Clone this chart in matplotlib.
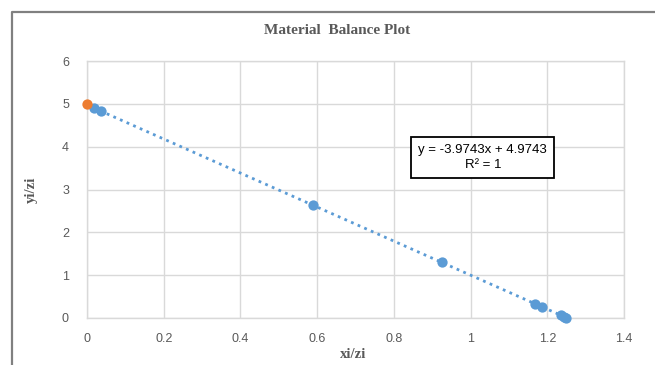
import matplotlib.pyplot as plt
from matplotlib.lines import Line2D
import numpy as np

# measured material balance points
xi_zi = [0.017, 0.037, 0.590, 0.925, 1.168, 1.185, 1.235, 1.243, 1.250]
yi_zi = [4.91, 4.83, 2.63, 1.30, 0.33, 0.26, 0.07, 0.035, 0.008]

# feed point
feed_x = [0.0]
feed_y = [5.0]

# linear trendline reported on the chart
slope = -3.9743
intercept = 4.9743
r2 = 1

xticks = [0, 0.2, 0.4, 0.6, 0.8, 1, 1.2, 1.4]
yticks = [0, 1, 2, 3, 4, 5, 6]

blue = "#5B9BD5"
orange = "#ED7D31"
grid_c = "#D9D9D9"
text_c = "#595959"

fig = plt.figure(figsize=(6.55, 3.65), dpi=100)
ax = fig.add_axes([87 / 655, 1 - 318 / 365, (624 - 87) / 655, (318 - 61) / 365])

# dotted trendline
tx = np.array([0.0, -intercept / slope])
ax.plot(tx, slope * tx + intercept, linestyle=(0, (1, 1.6)), color=blue, lw=2.0, zorder=2)

ax.scatter(xi_zi, yi_zi, s=55, color=blue, zorder=3, linewidths=0, clip_on=False)
ax.scatter(feed_x, feed_y, s=55, color=orange, zorder=4, linewidths=0, clip_on=False)

ax.set_xlim(0, 1.4)
ax.set_ylim(0, 6)
ax.set_xticks(xticks)
ax.set_yticks(yticks)
ax.set_xticklabels([f"{t:g}" for t in xticks])
ax.grid(True, color=grid_c, lw=1)
ax.set_axisbelow(True)
for s in ax.spines.values():
    s.set_color(grid_c)
    s.set_linewidth(1)
ax.tick_params(length=0, colors=text_c, labelsize=9)
ax.tick_params(axis="x", pad=11)
ax.tick_params(axis="y", pad=13)
for lab in ax.get_xticklabels() + ax.get_yticklabels():
    lab.set_fontfamily("Liberation Sans")

serif = dict(family="Liberation Serif", weight="bold", color=text_c)
fig.text(337 / 655, 1 - 31 / 365, "Material  Balance Plot", ha="center", va="center", fontsize=11, **serif)
fig.text(353 / 655, 1 - 355 / 365, "xi/zi", ha="center", va="center", fontsize=10.5, **serif)
fig.text(31 / 655, 1 - 190 / 365, "yi/zi", ha="center", va="center", rotation=90, fontsize=10.5, **serif)

# trendline equation box
ax.text(1.032, 3.74, f"y = {slope}x + {intercept}\nR² = {r2}", ha="center", va="center",
        fontsize=9.5, family="Liberation Sans", color="#000000", linespacing=1.3,
        bbox=dict(boxstyle="square,pad=0.55", fc="white", ec="#000000", lw=1.3))

# outer chart frame
fig.add_artist(Line2D([12 / 655, 12 / 655, 1], [0, 1 - 12 / 365, 1 - 12 / 365],
                      color="#808080", lw=1.6, transform=fig.transFigure))

fig.savefig("out.png", dpi=100)
